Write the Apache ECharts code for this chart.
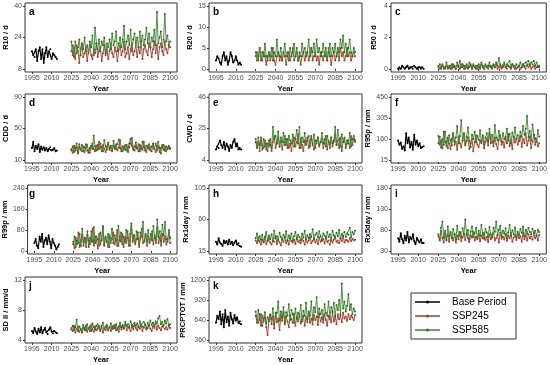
<!DOCTYPE html>
<html><head><meta charset="utf-8">
<script src="https://cdn.jsdelivr.net/npm/echarts@6/dist/echarts.min.js"></script>
<style>html,body{margin:0;padding:0;background:#fff}#c{width:550px;height:365px}</style>
</head><body><div id="c"></div>
<script>
// ---------- data ----------
const baseStart = 1995, futureStart = 2025;
const xTickYears = [1995, 2010, 2025, 2040, 2055, 2070, 2085, 2100];
const seriesNames = ['Base Period', 'SSP245', 'SSP585'];
const panelLetters = ['a','b','c','d','e','f','g','h','i','j','k'];
const yTitles = ['R10 / d','R20 / d','R50 / d','CDD / d','CWD / d','R95p / mm','R99p / mm','Rx1day / mm','Rx5day / mm','SD II / mm/d','PRCPTOT / mm'];
const yTicks = [[8,24,40],[0,5,10,15],[0,2,4],[10,50,90],[4,25,46],[15,160,305,450],[0,80,160,240],[15,60,105],[30,80,130,180],[4,8,12],[360,640,920,1200]];

const aBase = [17,15,14,18,12,17,19,13,18,11, 16,19,14,17,18,13,16,15,14,13];
const a245 = [22,15,19,13,20,17,11,18,21,14, 16,19,12,17,20,15,13,18,16,21, 14,17,19,12,16,20,15,18,13,17, 21,16,14,19,17,12,18,20,15,17, 22,14,16,19,13,18,21,15,17,20, 14,19,16,22,13,18,20,17,15,21, 19,14,18,22,16,20,13,19,21,17, 15,22,18,16,20,19];
const a585 = [17,20,14,22,16,19,23,15,21,18, 24,17,20,16,22,19,25,15,29,21, 18,23,17,22,20,24,16,21,19,23, 18,26,20,22,27,17,21,24,19,23, 30,18,22,25,20,28,17,23,26,21, 24,19,27,22,25,20,23,29,21,26, 19,24,22,28,20,37,21,24,27,19, 23,36,22,25,20,22];

const bBase = [2,3,2.5,1.5,1,3,4,2,3,1, 2,4,3,1.5,2,3,2,1,1.5,1];
const b245 = [3,4,2,5,3,2,4,3,1,3, 4,2,3,5,2,1,3,4,2,3, 2,4,3,1,3,4,2,3,5,2, 3,4,2,3,1,3,4,2,3,4, 2,3,5,2,3,4,2,3,1,4, 3,2,4,3,2,5,3,1,3,4, 2,3,4,2,5,3,4,2,3,5, 3,4,2,3,4,3];
const b585 = [4,2,3,5,2,4,3,6,3,2, 4,3,5,2,4,3,7,4,3,5, 2,4,6,3,4,2,5,3,4,6, 3,5,2,4,3,6,4,5,3,4, 7,3,5,4,6,3,7,4,5,3, 4,6,3,5,2,4,6,3,5,4, 6,3,5,4,7,5,8,4,6,3, 5,7,4,3,5,4];

const cBase = [0,0.1,0,0.2,0.1,0,0.1,0.2,0,0.1, 0.1,0,0.2,0.1,0,0.1,0.1,0,0.1,0];
const c245 = [0.2,0,0.1,0.3,0,0.1,0.2,0,0.1,0.2, 0,0.3,0.1,0,0.2,0.1,0,0.3,0.1,0, 0.2,0.1,0,0.1,0.3,0,0.2,0.1,0,0.2, 0.1,0,0.3,0.1,0,0.2,0.1,0,0.2,0.1, 0,0.2,0.1,0.3,0,0.1,0.2,0,0.1,0.3, 0.1,0,0.2,0.1,0,0.3,0.1,0.2,0,0.1, 0.2,0,0.1,0.3,0.1,0,0.2,0.1,0.3,0, 0.1,0.2,0,0.1,0.2,0.1];
const c585 = [0.1,0.3,0,0.2,0.1,0,0.4,0.1,0.2,0, 0.3,0.1,0.2,0,0.4,0.2,0.5,0.1,0.3,0.2, 0,0.3,0.1,0.4,0.2,0,0.3,0.1,0.2,0, 0.3,0.1,0.4,0.2,0,0.3,0.1,0.2,0.4,0.1, 0.2,0.3,0.1,0.4,0.2,0.7,0.3,0.1,0.2,0.4, 0.1,0.3,0.2,0.5,0.1,0.3,0.2,0,0.3,0.1, 0.2,0.4,0.1,0.3,0.2,0.4,0.3,0.5,0.2,0.4, 0.3,0.5,0.2,0.4,0.1,0.2];

const dBase = [25,33,21,28,24,30,20,27,23,26, 22,25,21,24,26,22,23,25,21,22];
const d245 = [24,19,28,22,26,18,30,23,21,27, 20,25,29,22,19,26,31,24,21,28, 23,33,26,21,29,24,20,27,32,23, 25,21,28,24,30,22,26,35,24,21, 27,23,29,20,26,31,38,25,22,28, 24,30,21,27,23,33,25,20,28,24, 26,21,29,24,31,22,27,20,25,29, 23,27,21,25,28,24];
const d585 = [22,27,20,25,31,19,26,23,29,21, 26,30,22,19,25,28,24,41,27,22, 29,24,31,26,21,35,27,23,30,25, 28,22,34,26,24,30,36,25,21,27, 24,29,22,26,31,37,28,23,27,32, 25,21,29,24,33,26,22,28,25,30, 22,27,31,24,20,28,33,25,18,26, 29,22,27,24,26,25];

const eBase = [11,13,12,17,14,12,16,11,15,13, 10,14,12,16,18,13,15,11,12,11];
const e245 = [18,13,16,10,19,14,12,17,11,15, 13,18,10,16,20,12,15,19,13,17, 11,16,20,14,18,12,15,10,17,19, 13,16,21,12,18,14,10,17,15,19, 12,16,20,14,11,17,15,19,13,16, 18,12,15,20,11,17,14,19,13,16, 21,14,17,12,19,10,16,18,13,15, 17,12,20,14,18,16];
const e585 = [16,12,19,14,17,11,18,13,15,10, 17,14,12,26,18,20,15,23,13,19, 16,22,14,18,12,20,17,15,21,13, 18,24,15,26,12,19,16,22,14,17, 20,13,18,15,21,12,17,19,14,16, 22,15,18,13,20,16,12,19,15,17, 26,14,24,18,13,21,16,19,12,17, 15,22,13,18,20,17];

const fBase = [150,120,135,90,110,80,200,130,170,100, 140,85,190,120,150,110,130,95,105,110];
const f245 = [180,120,150,95,210,140,110,170,130,90, 160,200,120,140,85,175,130,100,150,190, 115,145,170,90,130,160,75,140,185,120, 105,150,130,175,95,140,160,115,200,130, 145,110,170,125,90,155,185,120,140,100, 165,130,195,110,150,90,175,135,160,120, 145,180,105,160,130,200,115,150,175,95, 140,190,120,160,110,130];
const f585 = [130,175,100,160,120,210,140,95,185,150, 115,200,145,170,250,130,180,290,150,200, 125,175,240,150,105,190,160,210,135,180, 155,220,140,185,120,170,200,145,230,160, 190,135,255,170,150,215,180,140,200,160, 175,230,150,195,130,205,170,240,160,185, 145,210,175,250,190,230,320,170,215,150, 260,190,165,140,220,175];

const gBase = [30,45,20,10,55,35,65,15,40,50, 25,60,35,10,45,30,20,5,15,25];
const g245 = [35,10,50,25,70,15,40,60,20,45, 30,75,15,50,35,85,20,55,40,10, 65,25,45,90,20,50,35,15,60,30, 45,70,25,40,80,20,55,35,65,15, 50,30,75,40,20,95,35,60,25,45, 70,15,50,85,30,40,65,20,55,35, 45,75,25,60,40,90,30,50,20,65, 35,55,25,45,70,30];
const g585 = [25,55,15,40,30,65,20,85,35,50, 15,60,40,25,75,35,90,30,55,45, 20,70,40,95,25,55,35,65,15,50, 85,30,60,45,20,95,40,70,25,55, 35,80,50,20,65,105,40,60,30,75, 45,25,70,55,110,35,60,40,80,30, 65,40,95,50,30,120,55,75,40,100, 60,110,45,35,80,50];

const hBase = [28,24,33,27,25,22,30,26,29,24, 31,25,28,23,27,30,24,26,22,21];
const h245 = [30,26,34,28,24,31,27,35,25,29, 33,27,24,30,28,36,25,31,27,23, 32,28,35,26,30,24,33,29,27,31, 25,34,28,30,26,32,29,24,33,27, 30,35,26,29,33,27,31,25,34,28, 29,32,26,35,28,30,24,33,27,31, 34,28,30,26,33,29,36,27,31,30, 28,33,29,32,30,31];
const h585 = [33,40,29,36,31,38,28,35,42,30, 37,32,39,29,44,33,36,30,41,35, 31,38,34,43,30,37,33,40,29,36, 42,32,38,35,30,40,34,44,31,37, 33,39,35,46,32,38,41,34,43,36, 31,40,37,33,42,35,39,30,44,37, 34,41,36,45,33,39,37,42,35,40, 38,48,35,42,39,44];

const iBase = [60,52,72,58,48,66,55,75,50,63, 57,70,53,46,61,55,50,58,48,49];
const i245 = [65,55,78,60,50,72,58,68,52,75, 62,55,70,50,66,58,74,53,63,69, 56,72,60,51,68,62,76,55,64,58, 70,53,66,60,74,56,63,51,69,58, 65,72,55,61,68,50,74,59,64,57, 70,54,66,60,73,52,62,68,56,71, 60,65,52,74,58,67,55,70,61,64, 57,72,60,66,55,68];
const i585 = [70,58,85,100,62,78,55,88,65,73, 60,82,70,57,90,66,75,62,84,71, 105,68,80,58,76,88,63,72,85,60, 78,66,92,70,59,82,74,64,87,70, 62,85,76,100,68,80,90,65,78,71, 84,60,74,92,66,79,70,86,62,76, 68,82,73,88,64,80,71,85,75,69, 83,72,78,66,80,75];

const jBase = [5.2,4.9,5.6,5.1,4.8,5.5,5.0,5.7,4.9,5.3, 5.6,5.0,4.8,5.4,5.7,5.1,4.9,5.2,5.0,4.9];
const j245 = [5.6,5.2,5.9,5.0,5.5,5.8,5.1,5.4,5.0,5.7, 5.3,5.9,5.1,5.6,5.2,6.0,5.4,5.1,5.8,5.3, 5.5,5.9,5.2,5.7,5.0,5.6,5.3,5.9,5.4,5.7, 5.2,5.8,5.5,6.0,5.3,5.6,5.1,5.9,5.4,5.7, 5.5,6.1,5.3,5.8,5.6,5.2,5.9,5.4,6.0,5.6, 5.3,5.8,5.5,6.1,5.2,5.7,5.9,5.4,5.6,6.0, 5.5,5.2,5.8,5.6,6.2,5.4,5.9,5.6,5.3,5.8, 6.0,5.5,5.7,5.4,5.9,5.6];
const j585 = [5.4,5.9,5.3,5.7,6.7,5.2,5.8,5.5,5.1,6.0, 5.6,5.3,6.1,5.5,5.8,5.2,6.2,5.7,5.4,5.9, 6.1,5.6,5.4,5.9,6.3,5.5,5.8,6.0,5.3,5.7, 6.2,5.5,5.9,5.6,6.1,5.4,5.8,6.3,5.7,6.0, 5.6,6.4,5.9,6.1,5.7,6.5,6.0,5.8,6.3,5.9, 6.2,5.7,6.5,6.0,5.8,6.4,6.1,5.6,6.3,5.9, 6.6,6.0,6.3,5.8,6.5,6.2,6.9,7.2,6.1,6.4, 5.9,6.6,6.2,6.8,6.0,6.1];

const kBase = [600,700,650,760,580,720,540,780,610,690, 560,740,650,590,710,630,680,600,620,580];
const k245 = [760,650,600,720,560,700,620,680,540,430, 650,720,580,690,520,740,610,660,500,700, 630,750,580,690,620,540,710,650,600,730, 560,680,620,720,590,650,700,560,680,610, 740,600,660,580,710,640,690,570,730,620, 680,600,720,640,560,700,650,610,740,620, 690,580,720,650,700,610,740,660,690,630, 720,650,700,680,640,710];
const k585 = [700,600,780,640,720,560,660,750,590,680, 620,710,650,800,580,690,740,900,630,760, 680,820,600,750,700,860,640,780,720,600, 800,660,740,690,850,620,770,700,880,650, 760,700,900,640,820,750,960,680,800,720, 780,650,860,740,700,900,680,820,760,880, 700,850,780,920,720,1150,800,900,760,840, 1000,780,860,720,800,760];

const baseSets = [aBase,bBase,cBase,dBase,eBase,fBase,gBase,hBase,iBase,jBase,kBase];
const s245Sets = [a245,b245,c245,d245,e245,f245,g245,h245,i245,j245,k245];
const s585Sets = [a585,b585,c585,d585,e585,f585,g585,h585,i585,j585,k585];

// ---------- layout / style ----------
const colLeft = [25, 209, 391], colRight = [177, 362, 547];
const rowTop = [3, 94, 185, 277], panelH = 69;
const titleX = [7, 191, 374];
const colors = ['#000000', '#8a4632', '#3f8532'];
const symColors = ['#000000', '#b8322a', '#2c6e22'];
const FONT = 'Arial, "Liberation Sans", sans-serif';

function pairs(start, arr) { return arr.map((v, k) => [start + k, v]); }

const grids = [], xAxes = [], yAxes = [], series = [], graphics = [];
for (let i = 0; i < 11; i++) {
  const r = Math.floor(i / 3), c = i % 3;
  const left = colLeft[c], top = rowTop[r], w = colRight[c] - colLeft[c];
  grids.push({ left, top, width: w, height: panelH, show: true, borderColor: '#333', borderWidth: 1, backgroundColor: '#fff' });
  xAxes.push({
    gridIndex: i, type: 'value', min: 1989.75, max: 2105.25,
    splitLine: { show: false }, axisLine: { show: false },
    axisTick: { show: true, length: 2, customValues: xTickYears, lineStyle: { color: '#333' } },
    axisLabel: { customValues: xTickYears, fontSize: 7, color: '#4d4d4d', margin: 3, fontFamily: FONT,
      formatter: v => String(v) },
    name: 'Year', nameLocation: 'middle', nameGap: 13,
    nameTextStyle: { fontSize: 7.5, fontWeight: 'bold', color: '#000', fontFamily: FONT }
  });
  const t = yTicks[i], lo = t[0], hi = t[t.length - 1], pad = 0.05 * (hi - lo);
  yAxes.push({
    gridIndex: i, type: 'value', min: lo - pad, max: hi + pad,
    splitLine: { show: false }, axisLine: { show: false },
    axisTick: { show: true, length: 2, customValues: t, lineStyle: { color: '#333' } },
    axisLabel: { customValues: t, fontSize: 7, color: '#4d4d4d', margin: 3, fontFamily: FONT,
      formatter: v => String(v) },
    name: yTitles[i], nameLocation: 'middle', nameGap: left - titleX[c] - 4,
    nameTextStyle: { fontSize: 7.5, fontWeight: 'bold', color: '#000', fontFamily: FONT }
  });
  const sets = [pairs(baseStart, baseSets[i]), pairs(futureStart, s245Sets[i]), pairs(futureStart, s585Sets[i])];
  for (let s = 0; s < 3; s++) {
    series.push({
      name: seriesNames[s], type: 'line', xAxisIndex: i, yAxisIndex: i, data: sets[s],
      symbol: 'circle', symbolSize: 2, showSymbol: true,
      lineStyle: { width: s === 0 ? 1.2 : 0.9, color: colors[s] }, itemStyle: { color: symColors[s] },
      z: 2 + s, animation: false, silent: true
    });
  }
  graphics.push({ type: 'text', left: left + 4, top: top + 4,
    style: { text: panelLetters[i], font: 'bold 10px ' + FONT, fill: '#000' } });
}

// legend box
const lgX = 411, lgY = 293, lgW = 105, lgH = 46;
graphics.push({ type: 'rect', shape: { x: lgX, y: lgY, width: lgW, height: lgH },
  style: { fill: '#fff', stroke: '#333', lineWidth: 1 } });
for (let s = 0; s < 3; s++) {
  const yy = lgY + 9 + s * 14;
  graphics.push({ type: 'line', shape: { x1: lgX + 4, y1: yy, x2: lgX + 29, y2: yy },
    style: { stroke: colors[s], lineWidth: 1.5 } });
  graphics.push({ type: 'circle', shape: { cx: lgX + 16.5, cy: yy, r: 1.5 },
    style: { fill: symColors[s] } });
  graphics.push({ type: 'text', x: lgX + 41, y: yy,
    style: { text: seriesNames[s], font: '10px ' + FONT, fill: '#000', textVerticalAlign: 'middle' } });
}

const chart = echarts.init(document.getElementById('c'), null, { renderer: 'canvas' });
chart.setOption({
  animation: false, backgroundColor: '#fff',
  grid: grids, xAxis: xAxes, yAxis: yAxes, series, graphic: graphics
});
</script></body></html>
